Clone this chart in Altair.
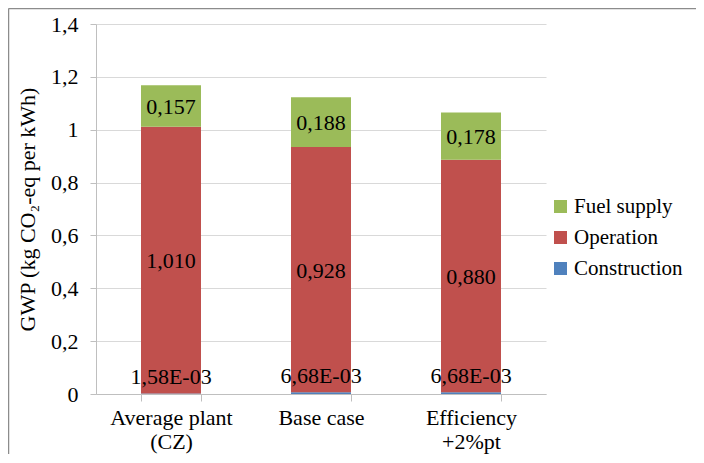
import altair as alt
import pandas as pd

categories = ["Average plant\n(CZ)", "Base case", "Efficiency\n+2%pt"]
construction = [0.00158, 0.00668, 0.00668]
operation = [1.010, 0.928, 0.880]
fuel_supply = [0.157, 0.188, 0.178]
series = ["Construction", "Operation", "Fuel supply"]
legend_order = ["Fuel supply", "Operation", "Construction"]
legend_colors = ["#9BBB59", "#C0504D", "#4F81BD"]
y_ticks = [0, 0.2, 0.4, 0.6, 0.8, 1.0, 1.2, 1.4]

rows = []
for i, c in enumerate(categories):
    for k, (s, vals) in enumerate(zip(series, [construction, operation, fuel_supply])):
        v = vals[i]
        if s == "Construction":
            lab = f"{v:.2E}".replace(".", ",")
        else:
            lab = f"{v:.3f}".replace(".", ",")
        rows.append({"category": c, "series": s, "value": v, "order": k,
                     "label": lab, "isc": s == "Construction"})
df = pd.DataFrame(rows)

FONT = "'Times New Roman', 'Liberation Serif', serif"
FS = 22

x_enc = alt.X(
    "category:N", sort=categories, title=None,
    scale=alt.Scale(paddingInner=0.6, paddingOuter=0.3),
    axis=alt.Axis(labelAngle=0, labelExpr="split(datum.label, '\\n')",
                  tickBand="extent", tickSize=7, grid=False,
                  labelPadding=6, labelLineHeight=24,
                  domainColor="#BFBFBF", tickColor="#BFBFBF"),
)

base = alt.Chart(df).transform_stack(
    stack="value", groupby=["category"], as_=["y0", "y1"],
    sort=[alt.SortField("order")]
).transform_calculate(mid="(datum.y0 + datum.y1) / 2")

bars = base.mark_bar().encode(
    x=x_enc,
    y=alt.Y("y0:Q", scale=alt.Scale(domain=[0, 1.4], nice=False),
            axis=alt.Axis(values=y_ticks,
                          labelExpr="replace(format(datum.value, '.1~f'), '.', ',')",
                          title="GWP (kg CO₂-eq per kWh)",
                          titlePadding=11, labelPadding=12, tickSize=6,
                          tickColor="#BFBFBF", domainColor="#BFBFBF",
                          gridColor="#D9D9D9")),
    y2="y1:Q",
    color=alt.Color("series:N",
                    scale=alt.Scale(domain=legend_order, range=legend_colors),
                    legend=alt.Legend(title=None, orient="none", legendX=454, legendY=172,
                                      symbolType="square", symbolSize=169,
                                      symbolStrokeWidth=0, rowPadding=9, labelOffset=3)),
)

texts = base.transform_filter("!datum.isc").mark_text(
    font=FONT, fontSize=FS, color="black", baseline="middle", dy=1
).encode(x=alt.X("category:N", sort=categories), y=alt.Y("mid:Q"), text="label:N")

texts_c = base.transform_filter("datum.isc").mark_text(
    font=FONT, fontSize=FS, color="black", baseline="middle", dy=-17
).encode(x=alt.X("category:N", sort=categories), y=alt.Y("mid:Q"), text="label:N")

frame_src = alt.Data(values=[{"k": 1}])
frame_left = alt.Chart(frame_src).mark_rule(color="#8c8c8c", strokeWidth=1.5).encode(
    x=alt.value(-87.5), y=alt.value(-15.5), y2=alt.value(460))
frame_top = alt.Chart(frame_src).mark_rule(color="#8c8c8c", strokeWidth=1.5).encode(
    x=alt.value(-87.5), x2=alt.value(620), y=alt.value(-15.5))

chart = alt.layer(bars, texts, texts_c, frame_left, frame_top).properties(
    width=450, height=370,
    padding={"left": 88, "top": 16, "right": 150, "bottom": 60},
    autosize=alt.AutoSizeParams(type="none"),
).configure(background="white", font=FONT).configure_view(stroke=None).configure_axis(
    labelFont=FONT, titleFont=FONT, labelFontSize=FS, titleFontSize=FS,
    labelColor="black", titleColor="black", titleFontWeight="normal",
).configure_legend(labelFont=FONT, labelFontSize=21, labelColor="black")

chart.save("out.html", embed_options={"renderer": "svg", "actions": False})
